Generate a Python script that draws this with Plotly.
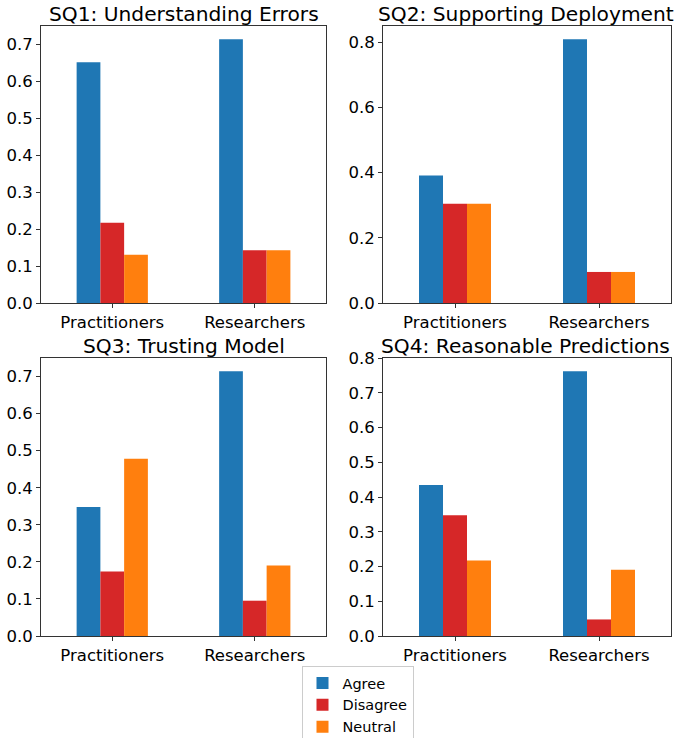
import plotly.graph_objects as go
from plotly.subplots import make_subplots

groups = ["Practitioners", "Researchers"]
titles = ["SQ1: Understanding Errors", "SQ2: Supporting Deployment",
          "SQ3: Trusting Model", "SQ4: Reasonable Predictions"]
series = ["Agree", "Disagree", "Neutral"]
colors = {"Agree": "#1f77b4", "Disagree": "#d62728", "Neutral": "#ff7f0e"}

sq1 = {"Agree": [15/23, 15/21], "Disagree": [5/23, 3/21], "Neutral": [3/23, 3/21]}
sq2 = {"Agree": [9/23, 17/21], "Disagree": [7/23, 2/21], "Neutral": [7/23, 2/21]}
sq3 = {"Agree": [8/23, 15/21], "Disagree": [4/23, 2/21], "Neutral": [11/23, 4/21]}
sq4 = {"Agree": [10/23, 16/21], "Disagree": [8/23, 1/21], "Neutral": [5/23, 4/21]}
panels = [sq1, sq2, sq3, sq4]

W, H = 675, 738
fig = make_subplots(rows=2, cols=2)

font = "DejaVu Sans"
for i, data in enumerate(panels):
    r, c = i // 2 + 1, i % 2 + 1
    for s in series:
        fig.add_trace(go.Bar(x=groups, y=data[s], name=s, marker_color=colors[s],
                             marker_line_width=0, showlegend=(i == 0), legendgroup=s),
                      row=r, col=c)

xdoms = [[41 / W, 326 / W], [383 / W, 671 / W]]
ydoms = [[(H - 303) / H, (H - 26) / H], [(H - 636) / H, (H - 358) / H]]
for i, data in enumerate(panels):
    r, c = i // 2, i % 2
    ymax = max(max(v) for v in data.values()) * 1.05
    dtick = 0.2 if i == 1 else 0.1
    axn = "" if i == 0 else str(i + 1)
    fig.layout["xaxis" + axn].update(domain=xdoms[c], range=[-0.5, 1.5], showline=True,
                                     mirror=True, linecolor="#333", linewidth=1,
                                     ticks="outside", ticklen=4, tickcolor="#333",
                                     tickfont=dict(size=16.5, color="black", family=font),
                                     showgrid=False, zeroline=False, automargin=False)
    fig.layout["yaxis" + axn].update(domain=ydoms[r], range=[0, ymax], dtick=dtick,
                                     tickformat=".1f", showline=True, mirror=True,
                                     linecolor="#333", linewidth=1, ticks="outside",
                                     ticklen=4, tickcolor="#333",
                                     tickfont=dict(size=16.5, color="black", family=font),
                                     showgrid=False, zeroline=False, automargin=False)
    fig.add_annotation(text=titles[i], x=(xdoms[c][0] + xdoms[c][1]) / 2 - (1.5 / W if c else 0),
                       y=ydoms[r][1],
                       xref="paper", yref="paper", xanchor="center", yanchor="bottom",
                       yshift=-2, showarrow=False,
                       font=dict(size=20.2, color="black", family=font))

fig.update_layout(width=W, height=H,
                  margin=dict(l=0, r=0, t=0, b=0, pad=0, autoexpand=False),
                  plot_bgcolor="white", paper_bgcolor="white",
                  barmode="group", bargap=0.5, bargroupgap=0,
                  font=dict(family=font, color="black"),
                  legend=dict(x=357.5 / W, y=(H - 666) / H, xanchor="center", yanchor="top",
                              bordercolor="#cccccc", borderwidth=1, bgcolor="white",
                              font=dict(size=14.5, family=font, color="black"),
                              itemwidth=30, tracegroupgap=0))
fig.write_html("out.html", config={"displayModeBar": False},
               post_script="document.body.style.margin='0';")
